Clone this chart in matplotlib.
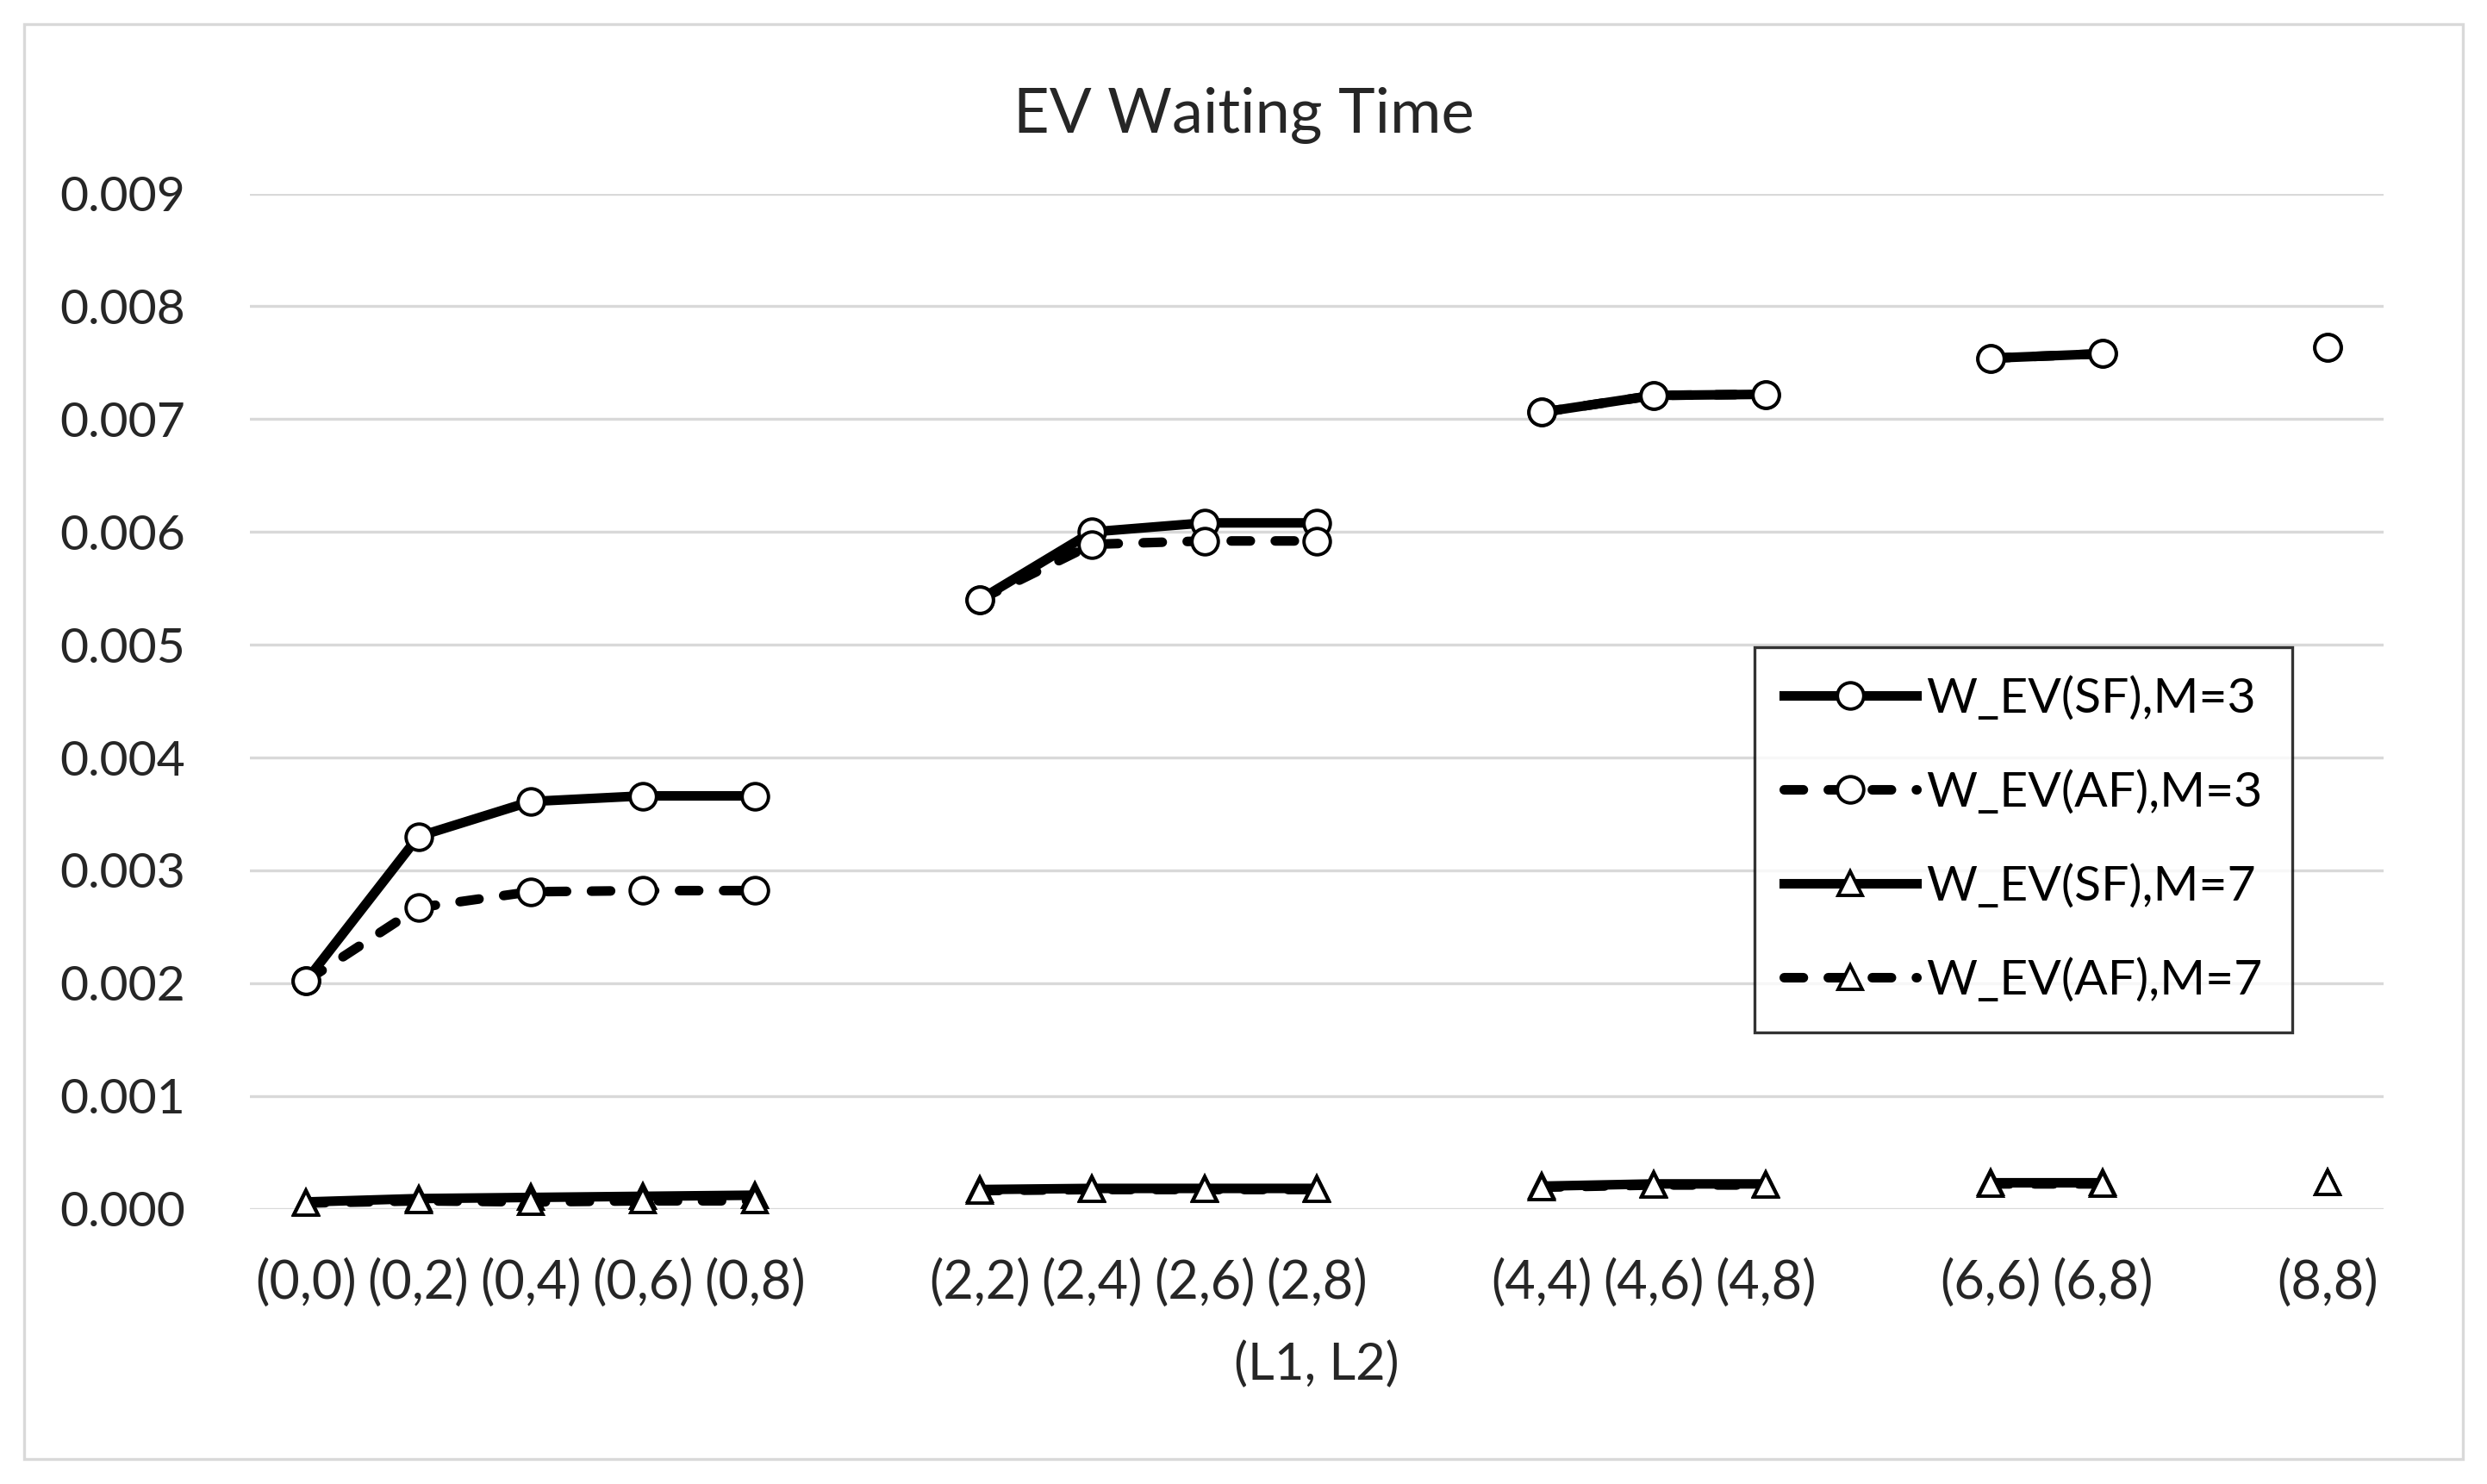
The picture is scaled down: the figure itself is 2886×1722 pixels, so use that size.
import numpy as np
import matplotlib.pyplot as plt

plt.rcParams['font.family'] = ['Lato', 'DejaVu Sans']

# category slots; empty strings are the blank slots between groups
categories = ["(0,0)", "(0,2)", "(0,4)", "(0,6)", "(0,8)", "",
              "(2,2)", "(2,4)", "(2,6)", "(2,8)", "",
              "(4,4)", "(4,6)", "(4,8)", "",
              "(6,6)", "(6,8)", "",
              "(8,8)"]
gap = np.nan

w_sf_m3 = [0.00202, 0.00330, 0.00361, 0.00366, 0.00366, gap,
           0.00540, 0.00600, 0.00608, 0.00608, gap,
           0.00706, 0.00721, 0.00722, gap,
           0.00754, 0.00758, gap,
           0.00764]
w_af_m3 = [0.00202, 0.00267, 0.00281, 0.00282, 0.00282, gap,
           0.00540, 0.00589, 0.00592, 0.00592, gap,
           0.00706, 0.00721, 0.00722, gap,
           0.00754, 0.00758, gap,
           0.00764]
w_sf_m7 = [0.00006, 0.00009, 0.00010, 0.00011, 0.00012, gap,
           0.00017, 0.00018, 0.00018, 0.00018, gap,
           0.00020, 0.00022, 0.00022, gap,
           0.00023, 0.00023, gap,
           0.00023]
w_af_m7 = [0.00005, 0.00007, 0.00006, 0.00007, 0.00007, gap,
           0.00016, 0.00017, 0.00017, 0.00017, gap,
           0.00019, 0.00021, 0.00021, gap,
           0.00022, 0.00022, gap,
           0.00023]

series = [
    ("W_EV(SF),M=3", w_sf_m3, "o", "-"),
    ("W_EV(AF),M=3", w_af_m3, "o", "--"),
    ("W_EV(SF),M=7", w_sf_m7, "^", "-"),
    ("W_EV(AF),M=7", w_af_m7, "^", "--"),
]

fig = plt.figure(figsize=(14.43, 8.61), dpi=200)
ax = fig.add_axes([0.1005, 0.1855, 0.8579, 0.6841])

# light grey outer frame like the Excel chart area
fig.patches.append(plt.Rectangle((28 / 2886, 1 - 1693 / 1722), (2858 - 28) / 2886,
                                 (1693 - 28) / 1722, transform=fig.transFigure,
                                 fill=False, edgecolor="#d9d9d9", linewidth=1.2))

x = np.arange(len(categories))
for label, vals, mk, ls in series:
    line, = ax.plot(x, np.array(vals, dtype=float), color="black", linestyle=ls,
                    linewidth=4, marker=mk, markersize=11 if mk == "o" else 10,
                    markerfacecolor="white", markeredgecolor="black",
                    markeredgewidth=1.4, label=label, clip_on=False)
    if ls == "--":
        line.set_dashes((2.0, 2.6))
        line.set_dash_capstyle("round")

ax.set_xlim(-0.5, len(categories) - 0.5)
ax.set_ylim(0, 0.009)
ax.set_yticks(np.arange(0, 0.0091, 0.001))
ax.yaxis.set_major_formatter(plt.FormatStrFormatter("%.3f"))
ax.set_xticks(x)
ax.set_xticklabels(categories)
ax.tick_params(axis="both", length=0, labelsize=20.5, colors="#262626")
ax.tick_params(axis="y", pad=27)
ax.tick_params(axis="x", pad=21, labelsize=22)
ax.grid(axis="y", color="#d9d9d9", linewidth=1.2)
ax.set_axisbelow(True)
for s in ax.spines.values():
    s.set_visible(False)

# title centred on the whole chart area, not the plot area
fig.text(0.5, 1 - 134 / 1722, "EV Waiting Time", fontsize=26, color="#262626",
         ha="center", va="center")
ax.set_xlabel("(L1, L2)", fontsize=21.5, color="#262626")
ax.xaxis.label.set_va("center")
ax.xaxis.set_label_coords(0.5, -0.1532)

leg = ax.legend(loc="upper left", bbox_to_anchor=(0.7055, 0.5639),
                bbox_transform=fig.transFigure, borderaxespad=0,
                fontsize=20.5, handlelength=2.7, handletextpad=0.2,
                labelspacing=1.0, borderpad=0.6, frameon=True, fancybox=False)
leg.get_frame().set_edgecolor("black")
leg.get_frame().set_linewidth(1.2)

fig.savefig("out.png", dpi=200, facecolor="white")
